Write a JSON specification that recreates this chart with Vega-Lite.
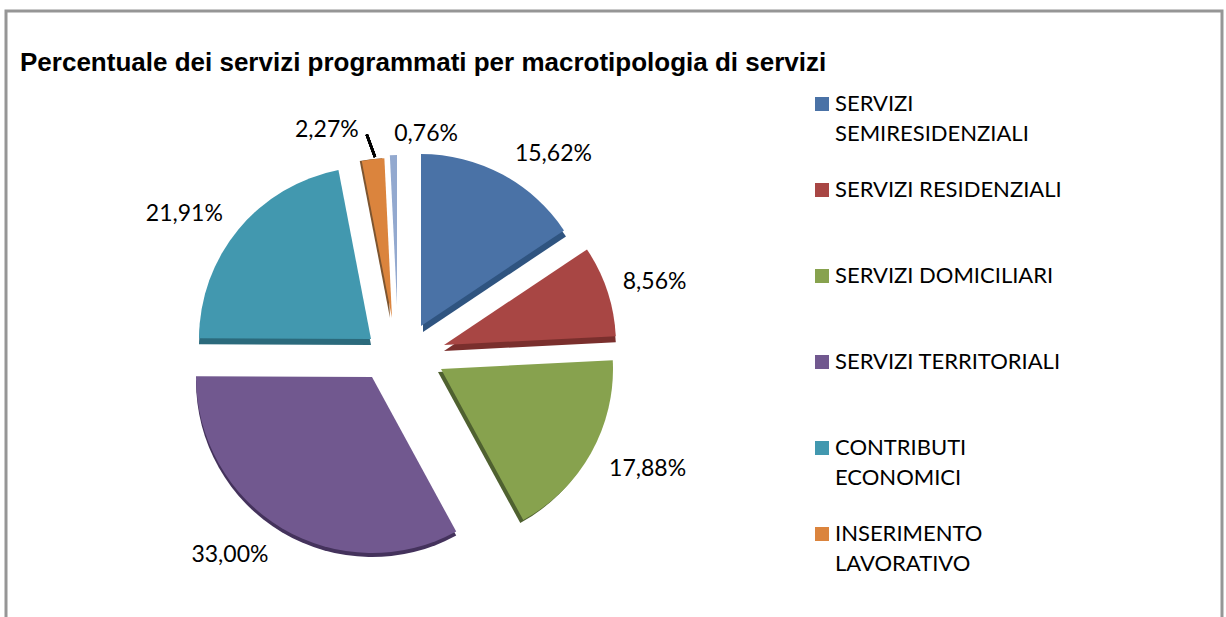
{
"$schema":"https://vega.github.io/schema/vega-lite/v6.json",
"width":1216,"height":612,"autosize":"none",
"padding":{"left":6,"top":11,"right":4,"bottom":0},
"background":"white",
"view":{"stroke":"#969696","strokeWidth":3,"fill":"white"},
"title":{"text":"Percentuale dei servizi programmati per macrotipologia di servizi","anchor":"start","frame":"group","dx":14,"dy":69,"font":"Liberation Sans","fontSize":26,"fontWeight":"bold","color":"#000000"},
"data":{"values":[
{"ord":1,"cat":"SERVIZI SEMIRESIDENZIALI","pct":15.62,"label":"15,62%"},
{"ord":2,"cat":"SERVIZI RESIDENZIALI","pct":8.56,"label":"8,56%"},
{"ord":3,"cat":"SERVIZI DOMICILIARI","pct":17.88,"label":"17,88%"},
{"ord":4,"cat":"SERVIZI TERRITORIALI","pct":33.00,"label":"33,00%"},
{"ord":5,"cat":"CONTRIBUTI ECONOMICI","pct":21.91,"label":"21,91%"},
{"ord":6,"cat":"INSERIMENTO LAVORATIVO","pct":2.27,"label":"2,27%"},
{"ord":7,"cat":"ALTRO","pct":0.76,"label":"0,76%"}
]},
"transform":[
{"window":[{"op":"sum","field":"pct","as":"end"}],"sort":[{"field":"ord","order":"ascending"}]},
{"calculate":"datum.end-datum.pct","as":"start"},
{"calculate":"datum.end-datum.pct/2","as":"mid"}
],
"encoding":{
"theta":{"field":"start","type":"quantitative","scale":{"domain":[0,100],"range":[0,6.2832]}}
},
"layer":[
{"transform":[{"filter":"datum.ord==1"}],"mark":{"type":"arc","radius":172,"xOffset":-191,"yOffset":15,"fill":"#2f5480"},"encoding":{"theta2":{"field":"end"}}},
{"transform":[{"filter":"datum.ord==2"}],"mark":{"type":"arc","radius":172,"xOffset":-170,"yOffset":34,"fill":"#7a2f2d"},"encoding":{"theta2":{"field":"end"}}},
{"transform":[{"filter":"datum.ord==3"}],"mark":{"type":"arc","radius":172,"xOffset":-176,"yOffset":55,"fill":"#4f6130"},"encoding":{"theta2":{"field":"end"}}},
{"transform":[{"filter":"datum.ord==4"}],"mark":{"type":"arc","radius":176,"xOffset":-242,"yOffset":64,"fill":"#44325c"},"encoding":{"theta2":{"field":"end"}}},
{"transform":[{"filter":"datum.ord==5"}],"mark":{"type":"arc","radius":172,"xOffset":-243,"yOffset":28,"fill":"#2b6a7c"},"encoding":{"theta2":{"field":"end"}}},
{"transform":[{"filter":"datum.ord==6"}],"mark":{"type":"arc","radius":160,"xOffset":-224,"yOffset":1,"fill":"#7d5530"},"encoding":{"theta2":{"field":"end"}}},
{"transform":[{"filter":"datum.ord==1"}],"mark":{"type":"arc","radius":172,"xOffset":-193,"yOffset":9},"encoding":{"theta2":{"field":"end"},"color":{"field":"cat","type":"nominal","scale":{"domain":["SERVIZI SEMIRESIDENZIALI","SERVIZI RESIDENZIALI","SERVIZI DOMICILIARI","SERVIZI TERRITORIALI","CONTRIBUTI ECONOMICI","INSERIMENTO LAVORATIVO","ALTRO"],"range":["#4a72a6","#a84644","#87a24e","#71588f","#4298af","#db843d","#93a9cf"]},"legend":{"orient":"none","legendX":805,"legendY":82,"title":null,"values":["SERVIZI SEMIRESIDENZIALI","SERVIZI RESIDENZIALI","SERVIZI DOMICILIARI","SERVIZI TERRITORIALI","CONTRIBUTI ECONOMICI","INSERIMENTO LAVORATIVO"],"symbolType":"square","symbolSize":196,"symbolStrokeWidth":0,"labelFont":"Lato","labelFontSize":22,"labelColor":"#000000","labelLimit":300,"labelOffset":2,"labelBaseline":"middle","rowPadding":34,"encode":{"labels":{"enter":{"lineHeight":{"value":30}},"update":{"lineHeight":{"value":30}}}},"labelExpr":"datum.label=='SERVIZI SEMIRESIDENZIALI'?['SERVIZI','SEMIRESIDENZIALI']:datum.label=='CONTRIBUTI ECONOMICI'?['CONTRIBUTI','ECONOMICI']:datum.label=='INSERIMENTO LAVORATIVO'?['INSERIMENTO','LAVORATIVO']:[datum.label,' ']"}}}},
{"transform":[{"filter":"datum.ord==2"}],"mark":{"type":"arc","radius":172,"xOffset":-170,"yOffset":28},"encoding":{"theta2":{"field":"end"},"color":{"field":"cat","type":"nominal"}}},
{"transform":[{"filter":"datum.ord==3"}],"mark":{"type":"arc","radius":172,"xOffset":-173,"yOffset":52},"encoding":{"theta2":{"field":"end"},"color":{"field":"cat","type":"nominal"}}},
{"transform":[{"filter":"datum.ord==4"}],"mark":{"type":"arc","radius":176,"xOffset":-242,"yOffset":60},"encoding":{"theta2":{"field":"end"},"color":{"field":"cat","type":"nominal"}}},
{"transform":[{"filter":"datum.ord==5"}],"mark":{"type":"arc","radius":172,"xOffset":-243,"yOffset":22},"encoding":{"theta2":{"field":"end"},"color":{"field":"cat","type":"nominal"}}},
{"transform":[{"filter":"datum.ord==6"}],"mark":{"type":"arc","radius":160,"xOffset":-222,"yOffset":1},"encoding":{"theta2":{"field":"end"},"color":{"field":"cat","type":"nominal"}}},
{"transform":[{"filter":"datum.ord==7"}],"mark":{"type":"arc","radius":150,"xOffset":-217,"yOffset":-12},"encoding":{"theta2":{"field":"end"},"color":{"field":"cat","type":"nominal"}}},
{"mark":{"type":"arc","radius":24,"xOffset":-239,"yOffset":-160,"stroke":"#000000","strokeWidth":2.5,"fill":null},"encoding":{"theta":{"datum":94.4,"type":"quantitative"},"theta2":{"datum":94.4}}},
{"transform":[{"filter":"datum.ord==1"}],"mark":{"type":"text","radius":211,"dx":-160,"dy":23,"font":"Lato","fontSize":23,"color":"#000000"},"encoding":{"theta":{"field":"mid","type":"quantitative"},"text":{"field":"label"}}},
{"transform":[{"filter":"datum.ord==2"}],"mark":{"type":"text","radius":263,"dx":-209,"dy":48,"font":"Lato","fontSize":23,"color":"#000000"},"encoding":{"theta":{"field":"mid","type":"quantitative"},"text":{"field":"label"}}},
{"transform":[{"filter":"datum.ord==3"}],"mark":{"type":"text","radius":278,"dx":-209,"dy":16,"font":"Lato","fontSize":23,"color":"#000000"},"encoding":{"theta":{"field":"mid","type":"quantitative"},"text":{"field":"label"}}},
{"transform":[{"filter":"datum.ord==4"}],"mark":{"type":"text","radius":250,"dx":-256,"dy":23,"font":"Lato","fontSize":23,"color":"#000000"},"encoding":{"theta":{"field":"mid","type":"quantitative"},"text":{"field":"label"}}},
{"transform":[{"filter":"datum.ord==5"}],"mark":{"type":"text","radius":197,"dx":-278,"dy":23,"font":"Lato","fontSize":23,"color":"#000000"},"encoding":{"theta":{"field":"mid","type":"quantitative"},"text":{"field":"label"}}},
{"transform":[{"filter":"datum.ord==6"}],"mark":{"type":"text","radius":212,"dx":-262,"dy":23,"font":"Lato","fontSize":23,"color":"#000000"},"encoding":{"theta":{"field":"mid","type":"quantitative"},"text":{"field":"label"}}},
{"transform":[{"filter":"datum.ord==7"}],"mark":{"type":"text","radius":206,"dx":-183,"dy":23,"font":"Lato","fontSize":23,"color":"#000000"},"encoding":{"theta":{"field":"mid","type":"quantitative"},"text":{"field":"label"}}}
]
}
